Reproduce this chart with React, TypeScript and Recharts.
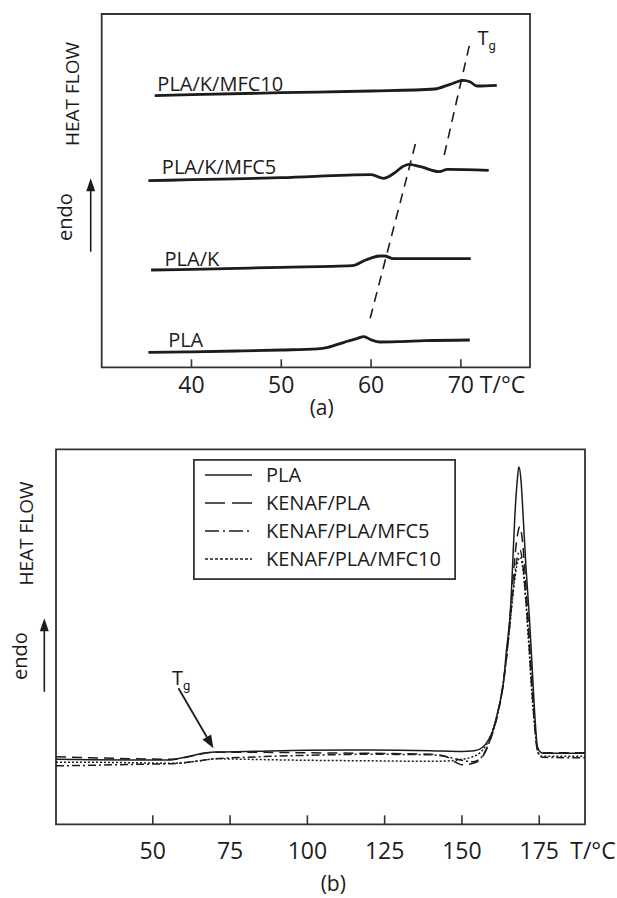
import {
  Legend,
  Line,
  LineChart,
  ReferenceArea,
  ReferenceDot,
  ReferenceLine,
  XAxis,
  YAxis,
} from "recharts";

const FONT = '"Open Sans", "DejaVu Sans", sans-serif';
const SUB_FONT = 'Roboto, "Open Sans", sans-serif';
const INK = "#1c1c1c";
const FRAME = "#333";

// ---- (a) Tg region, stacked traces: [T in °C, heat flow in arbitrary units]
const plaA = [
  [35.2, 15], [40, 15.5], [45, 16.3], [50, 17.3], [54, 18.5], [55.2, 20],
  [57, 25], [58.5, 29], [59.2, 30.6], [60, 27.5], [61, 25.3], [63, 25.6],
  [66, 26.6], [71, 27.3],
];
const plaKA = [
  [35.5, 97.3], [40, 98], [50, 100], [57.9, 101.6], [59.4, 107.3],
  [61, 111.3], [61.5, 111.3], [62.5, 108.6], [65, 108.6], [71.1, 108.6],
];
const plaKMfc5A = [
  [35.2, 186.6], [40, 187.6], [50, 189.6], [60, 192.6], [61.4, 189],
  [62.7, 195], [63.5, 200.6], [64.2, 203], [65.5, 200.6], [67.6, 195.6],
  [68.5, 198], [73.1, 197],
];
const plaKMfc10A = [
  [35.9, 271.6], [40, 272.6], [50, 274.6], [60, 276.3], [67.1, 278.3],
  [68.8, 283], [70.3, 287], [71, 285.6], [71.8, 281.3], [74, 282],
];
const namesA = ["PLA", "PLA/K", "PLA/K/MFC5", "PLA/K/MFC10"];
const labelAnchorsA = [[37.4, 20.6], [37, 101.6], [36.7, 193.3], [36.2, 276.6]];
const tgSegmentsA = [
  [[59.9, 49], [65, 225.6]],
  [[68.15, 212.3], [71.1, 328]],
];
const tgLabelA = [71.85, 322];
const ticksA = [40, 50, 60, 70];
const domainXA = [30, 77.7];
const domainYA = [0, 353.3];

// ---- (b) full scans
const plaB = [
  [18.7, 65], [30, 64.6], [45, 64.2], [55, 64.3], [58, 65.5], [62, 68],
  [66, 71], [70, 72.3], [80, 72.8], [100, 74], [120, 74.3], [140, 73.6],
  [150, 72.8], [154, 73.5], [156.9, 77.6], [158.5, 84], [160.1, 94.3],
  [161.7, 114], [163.4, 141], [164.4, 174], [165.7, 215], [166.6, 274],
  [167.1, 307.6], [167.9, 344], [168.4, 357.6], [169.1, 344], [169.8, 307.6],
  [170.7, 257.6], [171.8, 207.6], [172.7, 157.6], [173.6, 107.6], [174.5, 76],
  [176.3, 71], [189.8, 71],
];
const kenafPlaB = [
  [18.7, 67.5], [30, 66.5], [45, 65.5], [55, 65], [60, 66.5], [65, 70],
  [70, 72], [80, 72], [100, 71.5], [120, 71], [140, 70], [145, 67.5],
  [148, 62], [150, 59.5], [153, 60.5], [155.5, 64], [157.5, 72], [159.5, 88],
  [161.5, 110], [163.3, 140], [164.8, 180], [166, 225], [167.2, 270],
  [168, 290], [168.7, 297.6], [169.4, 288], [170.2, 260], [171.2, 215],
  [172.3, 160], [173.3, 110], [174.3, 78], [176, 71.5], [189.8, 71.5],
];
const kenafPlaMfc5B = [
  [18.7, 58.5], [30, 59], [45, 60], [55, 60.5], [60, 61.5], [65, 63.5],
  [70, 65.5], [80, 67], [100, 69], [120, 70], [140, 69.5], [146, 67],
  [150, 64], [153.6, 62.6], [156, 66], [158, 76], [160, 92], [162, 116],
  [163.8, 150], [165.2, 190], [166.5, 232], [167.6, 262], [168.8, 274],
  [169.6, 262], [170.5, 232], [171.5, 190], [172.5, 140], [173.5, 100],
  [174.5, 72], [176, 67], [189.8, 66.5],
];
const kenafPlaMfc10B = [
  [18.7, 62], [30, 62], [45, 61.5], [55, 61], [60, 61.5], [65, 63.5],
  [70, 65.5], [80, 65], [100, 64], [120, 63.5], [140, 63], [146, 63.5],
  [150, 65], [153, 67], [156, 72], [158, 80], [160, 95], [162, 118],
  [163.8, 152], [165.2, 190], [166.5, 230], [167.7, 258], [168.9, 267],
  [169.7, 256], [170.6, 225], [171.6, 180], [172.6, 132], [173.6, 95],
  [174.6, 72], [176, 68], [189.8, 68],
];
const namesB = ["PLA", "KENAF/PLA", "KENAF/PLA/MFC5", "KENAF/PLA/MFC10"];
const tgArrowB = [[58.3, 136], [69.6, 76]];
const tgLabelB = [56.2, 139.5];
const ticksB = [50, 75, 100, 125, 150, 175];
const domainXB = [18.7, 189.8];
const domainYB = [0, 375];

const dashesB = [undefined, "10 6", "8 3 2 3", "2 2"];
const legendDashesB = [undefined, "20 7", "14 4 2 4", "3 2"];

const toPoints = (rows: number[][]) => rows.map(([T, v]) => ({ T, v }));

function makeTick(tickLen: number, baseline: number, unitGap: number, last: number) {
  return (props: any) => {
    const { x, y, payload } = props;
    return (
      <g>
        <line x1={x} x2={x} y1={y} y2={y - tickLen} stroke={FRAME} strokeWidth={1.6} />
        <text x={x} y={y + baseline} textAnchor="middle" fontSize={23} fill={INK} style={{ fontFamily: FONT }}>
          {payload.value}
        </text>
        {payload.value === last && (
          <text x={x + unitGap} y={y + baseline} textAnchor="start" fontSize={23} fill={INK} style={{ fontFamily: FONT }}>
            T/°C
          </text>
        )}
      </g>
    );
  };
}

const tgText = (size: number) => (p: any) => (
  <text x={p.cx} y={p.cy} fontSize={size} fill={INK} style={{ fontFamily: FONT }}>
    T
    <tspan dy={5} fontSize={size * 0.65} style={{ fontFamily: SUB_FONT }}>
      g
    </tspan>
  </text>
);

function Arrow(p: any) {
  const { x1, y1, x2, y2 } = p;
  const a = Math.atan2(y2 - y1, x2 - x1);
  const L = 13;
  const W = 5;
  const bx = x2 - L * Math.cos(a);
  const by = y2 - L * Math.sin(a);
  const nx = -Math.sin(a) * W;
  const ny = Math.cos(a) * W;
  return (
    <g>
      <line x1={x1} y1={y1} x2={bx} y2={by} stroke={INK} strokeWidth={1.8} />
      <polygon points={`${x2},${y2} ${bx + nx},${by + ny} ${bx - nx},${by - ny}`} fill={INK} />
    </g>
  );
}

function LegendBox() {
  return (
    <svg width={263} height={121} style={{ display: "block" }}>
      <rect x={0.9} y={0.9} width={261.2} height={119.2} fill="#fff" stroke={FRAME} strokeWidth={1.8} />
      {namesB.map((name, i) => {
        const cy = 16 + i * 28;
        return (
          <g key={name}>
            <line x1={12} x2={59} y1={cy} y2={cy} stroke={INK} strokeWidth={1.5} strokeDasharray={legendDashesB[i]} />
            <text x={73} y={cy + 7} fontSize={20} fill={INK} style={{ fontFamily: FONT }}>
              {name}
            </text>
          </g>
        );
      })}
    </svg>
  );
}

function SideLabels() {
  const txt = { style: { fontFamily: FONT }, fill: INK };
  const upArrow = (x: number, y1: number, y2: number) => (
    <g>
      <line x1={x} x2={x} y1={y1} y2={y2 + 12} stroke={INK} strokeWidth={1.6} />
      <polygon points={`${x},${y2} ${x - 4.5},${y2 + 13} ${x + 4.5},${y2 + 13}`} fill={INK} />
    </g>
  );
  return (
    <svg width={617} height={898} style={{ position: "absolute", left: 0, top: 0, pointerEvents: "none" }}>
      <text {...txt} x={79} y={94} fontSize={19} textAnchor="middle" transform="rotate(-90 79 94)">HEAT FLOW</text>
      <text {...txt} x={72} y={217} fontSize={20} textAnchor="middle" transform="rotate(-90 72 217)">endo</text>
      {upArrow(90.7, 251.7, 178.3)}
      <text {...txt} x={321.7} y={415} fontSize={21} textAnchor="middle">(a)</text>

      <text {...txt} x={33.3} y={533.5} fontSize={19} textAnchor="middle" transform="rotate(-90 33.3 533.5)">HEAT FLOW</text>
      <text {...txt} x={27} y={656} fontSize={20} textAnchor="middle" transform="rotate(-90 27 656)">endo</text>
      {upArrow(44.3, 691.7, 618.3)}
      <text {...txt} x={333.3} y={891} fontSize={21} textAnchor="middle">(b)</text>
    </svg>
  );
}

export default function App() {
  const seriesA = [plaA, plaKA, plaKMfc5A, plaKMfc10A];
  const seriesB = [plaB, kenafPlaB, kenafPlaMfc5B, kenafPlaMfc10B];

  return (
    <div style={{ position: "absolute", left: 0, top: 0, width: 617, height: 898, background: "#fff" }}>
      <LineChart width={617} height={440} margin={{ top: 14, right: 87, bottom: 32.7, left: 101.7 }}>
        <XAxis
          type="number"
          dataKey="T"
          domain={domainXA}
          ticks={ticksA}
          interval={0}
          axisLine={false}
          tickLine={false}
          tickSize={0}
          tickMargin={0}
          height={40}
          tick={makeTick(8, 25.4, 19, 70)}
        />
        <YAxis type="number" domain={domainYA} hide />
        <ReferenceArea
          x1={domainXA[0]}
          x2={domainXA[1]}
          y1={domainYA[0]}
          y2={domainYA[1]}
          fill="none"
          fillOpacity={0}
          stroke={FRAME}
          strokeWidth={1.8}
        />
        {tgSegmentsA.map((seg, i) => (
          <ReferenceLine
            key={`tg${i}`}
            segment={seg.map(([x, y]) => ({ x, y }))}
            stroke={INK}
            strokeWidth={1.6}
            strokeDasharray="10 7"
          />
        ))}
        {seriesA.map((rows, i) => (
          <Line
            key={namesA[i]}
            data={toPoints(rows)}
            dataKey="v"
            name={namesA[i]}
            type="monotone"
            stroke={INK}
            strokeWidth={2.8}
            dot={false}
            activeDot={false}
            isAnimationActive={false}
          />
        ))}
        {labelAnchorsA.map(([x, y], i) => (
          <ReferenceDot
            key={`lab${i}`}
            x={x}
            y={y}
            r={0}
            shape={(p: any) => (
              <text x={p.cx} y={p.cy} fontSize={20} fill={INK} style={{ fontFamily: FONT }}>
                {namesA[i]}
              </text>
            )}
          />
        ))}
        <ReferenceDot x={tgLabelA[0]} y={tgLabelA[1]} r={0} shape={tgText(20)} />
      </LineChart>

      <LineChart width={617} height={458} margin={{ top: 9.3, right: 32, bottom: 33.7, left: 56 }}>
        <XAxis
          type="number"
          dataKey="T"
          domain={domainXB}
          ticks={ticksB}
          interval={0}
          axisLine={false}
          tickLine={false}
          tickSize={0}
          tickMargin={0}
          height={40}
          tick={makeTick(9, 34.7, 31, 175)}
        />
        <YAxis type="number" domain={domainYB} hide />
        <ReferenceArea
          x1={domainXB[0]}
          x2={domainXB[1]}
          y1={domainYB[0]}
          y2={domainYB[1]}
          fill="none"
          fillOpacity={0}
          stroke={FRAME}
          strokeWidth={1.8}
        />
        {seriesB.map((rows, i) => (
          <Line
            key={namesB[i]}
            data={toPoints(rows)}
            dataKey="v"
            name={namesB[i]}
            type="monotone"
            stroke={INK}
            strokeWidth={1.5}
            strokeDasharray={dashesB[i]}
            dot={false}
            activeDot={false}
            legendType="line"
            isAnimationActive={false}
          />
        ))}
        <ReferenceLine
          segment={tgArrowB.map(([x, y]) => ({ x, y }))}
          stroke={INK}
          shape={Arrow}
        />
        <ReferenceDot x={tgLabelB[0]} y={tgLabelB[1]} r={0} shape={tgText(20)} />
        <Legend
          layout="vertical"
          align="center"
          verticalAlign="middle"
          content={LegendBox}
          wrapperStyle={{ left: 192.7, top: 19, width: 263, height: 121 }}
        />
      </LineChart>

      <SideLabels />
    </div>
  );
}
